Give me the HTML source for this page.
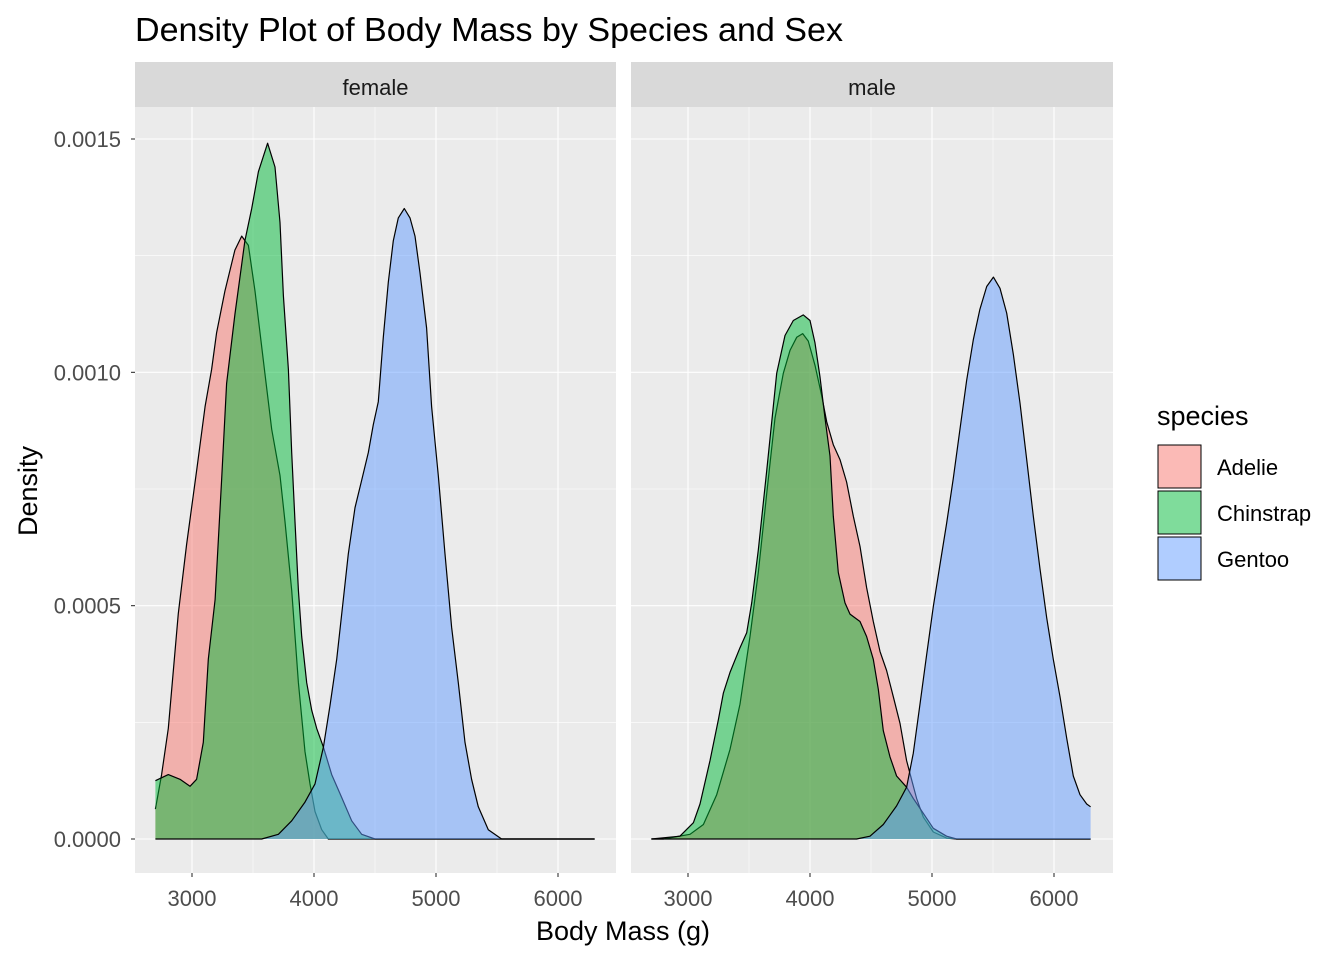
<!DOCTYPE html>
<html><head><meta charset="utf-8">
<style>
body{margin:0;background:#fff;}
svg text{font-family:"Liberation Sans",Arial,sans-serif;}
</style></head>
<body>
<svg id="chart" width="1344" height="960" viewBox="0 0 1344 960" xmlns="http://www.w3.org/2000/svg">
<text x="135" y="41" font-size="33" fill="#000" textLength="708" lengthAdjust="spacingAndGlyphs">Density Plot of Body Mass by Species and Sex</text>
<g id="panels"></g>
<text x="623" y="940" font-size="27" text-anchor="middle" fill="#000">Body Mass (g)</text>
<text transform="translate(37,491) rotate(-90)" font-size="27" text-anchor="middle" fill="#000">Density</text>
<g>
<text x="1157" y="425" font-size="27" fill="#000">species</text>
<g><rect x="1158" y="445" width="43" height="43" fill="#F8766D" fill-opacity="0.5" stroke="#000" stroke-width="1"/><text x="1217" y="475" font-size="22">Adelie</text></g>
<g><rect x="1158" y="491" width="43" height="43" fill="#00BA38" fill-opacity="0.5" stroke="#000" stroke-width="1"/><text x="1217" y="521" font-size="22">Chinstrap</text></g>
<g><rect x="1158" y="537" width="43" height="43" fill="#619CFF" fill-opacity="0.5" stroke="#000" stroke-width="1"/><text x="1217" y="567" font-size="22">Gentoo</text></g>
</g>
</svg>
<script>
const panelNames = ["female","male"];
const speciesNames = ["Adelie","Chinstrap","Gentoo"];
const xTicks = [3000,4000,5000,6000];
const yTicks = [0,0.0005,0.001,0.0015];
const yTickLabels = ["0.0000","0.0005","0.0010","0.0015"];
// density values in units of 1e-4
const femAdelieX = [2700,2751,2806,2888,2956,3038,3107,3161,3202,3270,3352,3407,3462,3516,3598,3653,3721,3762,3817,3872,3926,3967,4008,4063,4117,6300];
const femAdelieY = [0.64,1.38,2.37,4.83,6.31,7.89,9.27,10.06,10.85,11.74,12.62,12.92,12.72,11.74,9.96,8.78,7.79,6.80,5.33,3.35,1.87,1.18,0.59,0.20,0,0];
const femChinX = [2700,2806,2902,2984,3038,3093,3134,3189,3243,3284,3352,3434,3489,3544,3620,3680,3721,3749,3790,3817,3844,3872,3899,3940,3981,4022,4077,4145,4227,4309,4391,4500,6300];
const femChinY = [1.25,1.38,1.28,1.13,1.28,2.07,3.85,5.13,7.69,9.76,11.24,12.82,13.51,14.30,14.91,14.40,13.21,11.64,10.06,8.28,6.80,5.33,4.34,3.35,2.76,2.37,1.97,1.38,0.89,0.39,0.10,0,0];
const femGentooX = [2700,3571,3708,3817,3926,4008,4077,4131,4186,4240,4281,4336,4391,4445,4486,4527,4568,4609,4650,4691,4740,4787,4828,4869,4923,4964,5019,5074,5128,5183,5238,5292,5347,5429,5538,6300];
const femGentooY = [0,0,0.1,0.39,0.79,1.18,1.97,2.86,3.85,5.13,6.11,7.10,7.69,8.28,8.88,9.37,10.75,11.93,12.82,13.31,13.51,13.31,12.92,12.13,10.95,9.27,7.79,6.11,4.54,3.35,2.07,1.28,0.69,0.20,0,0];
const maleAdelieX = [2700,2798,3016,3126,3235,3344,3426,3508,3576,3645,3713,3781,3836,3891,3940,3986,4041,4096,4137,4191,4246,4300,4355,4410,4464,4519,4574,4628,4683,4738,4792,4833,4874,4929,5011,5120,5202,6300];
const maleAdelieY = [0,0,0.10,0.31,0.95,1.92,2.89,4.34,5.71,7.40,9.02,9.98,10.47,10.75,10.83,10.67,10.15,9.50,8.94,8.45,8.13,7.65,6.92,6.27,5.39,4.66,4.02,3.61,3.05,2.48,1.68,1.27,0.87,0.47,0.15,0.02,0,0];
const maleChinX = [2700,2934,3044,3098,3180,3249,3290,3344,3426,3481,3522,3576,3645,3727,3795,3863,3945,4000,4041,4082,4123,4164,4191,4232,4287,4328,4410,4464,4519,4560,4601,4656,4710,4792,4847,4929,5011,5120,5202,6300];
const maleChinY = [0,0.06,0.35,0.75,1.68,2.56,3.13,3.57,4.10,4.42,5.06,6.19,7.89,9.98,10.79,11.11,11.23,11.11,10.63,9.90,9.02,8.21,6.92,5.71,5.06,4.82,4.66,4.34,3.85,3.21,2.32,1.76,1.35,1.11,0.87,0.55,0.23,0.06,0,0];
const maleGentooX = [2700,4382,4492,4601,4710,4792,4847,4902,4956,5011,5065,5120,5175,5229,5284,5339,5393,5448,5503,5557,5612,5666,5721,5776,5830,5885,5940,5994,6049,6104,6158,6213,6268,6300];
const maleGentooY = [0,0,0.06,0.31,0.71,1.11,1.84,2.89,3.94,4.98,5.87,6.76,7.73,8.77,9.82,10.71,11.35,11.84,12.04,11.80,11.27,10.39,9.34,8.13,6.92,5.79,4.74,3.85,3.05,2.16,1.35,0.95,0.75,0.69];

const colors = ["#F8766D","#00BA38","#619CFF"];
const series = [
  [[femAdelieX,femAdelieY],[femChinX,femChinY],[femGentooX,femGentooY]],
  [[maleAdelieX,maleAdelieY],[maleChinX,maleChinY],[maleGentooX,maleGentooY]]
];
const NS = "http://www.w3.org/2000/svg";
const panelLeft = [135,631], panelW = [481,482];
const plotTop = 107, plotBottom = 873;
function xScale(p, v){ return panelLeft[p] + 57 + (v-3000)*0.122; }
function yScale(d){ return 839 - d/0.0015*700; }
function mk(tag, attrs, parent){ const e=document.createElementNS(NS,tag); for(const k in attrs) e.setAttribute(k,attrs[k]); parent.appendChild(e); return e; }
const root = document.getElementById("panels");
panelNames.forEach((name,p)=>{
  const g = mk("g",{},root);
  
  
  const L = panelLeft[p], W = panelW[p];
  const strip = mk("rect",{x:L,y:62,width:W,height:45,fill:"#D9D9D9"},g);
  
  
  const st = mk("text",{x:L+W/2,y:95,"font-size":22,"text-anchor":"middle",fill:"#1A1A1A"},g);
  st.textContent = name;
  
  
  const bg = mk("rect",{x:L,y:plotTop,width:W,height:plotBottom-plotTop,fill:"#EBEBEB"},g);
  
  
  for(let i=0;i<yTicks.length-1;i++){
    const y=yScale((yTicks[i]+yTicks[i+1])/2);
    mk("line",{x1:L,x2:L+W,y1:y,y2:y,stroke:"#fff","stroke-width":0.55},g);
  }
  for(let i=0;i<xTicks.length-1;i++){
    const x=xScale(p,(xTicks[i]+xTicks[i+1])/2);
    mk("line",{x1:x,x2:x,y1:plotTop,y2:plotBottom,stroke:"#fff","stroke-width":0.55},g);
  }
  yTicks.forEach(t=>{const y=yScale(t); mk("line",{x1:L,x2:L+W,y1:y,y2:y,stroke:"#fff","stroke-width":1.1},g);});
  xTicks.forEach(t=>{const x=xScale(p,t); mk("line",{x1:x,x2:x,y1:plotTop,y2:plotBottom,stroke:"#fff","stroke-width":1.1},g);});
  series[p].forEach((s,k)=>{
    const xs=s[0], ys=s[1];
    let d="";
    xs.forEach((v,i)=>{ d += (i?"L":"M")+xScale(p,v).toFixed(1)+","+yScale(ys[i]*1e-4).toFixed(1); });
    const area = mk("path",{d:d+"L"+xScale(p,xs[xs.length-1]).toFixed(1)+","+yScale(0)+"L"+xScale(p,xs[0]).toFixed(1)+","+yScale(0)+"Z",fill:colors[k],"fill-opacity":0.5,stroke:"none"},g);
    
    
    const line = mk("path",{d:d,fill:"none",stroke:"#000","stroke-width":1.2,"stroke-linejoin":"round"},g);
    
    
  });
  xTicks.forEach(t=>{
    const x=xScale(p,t);
    mk("line",{x1:x,x2:x,y1:plotBottom,y2:plotBottom+4,stroke:"#333","stroke-width":1.1},g);
    const tx=mk("text",{x:x,y:906,"font-size":22,"text-anchor":"middle",fill:"#4D4D4D"},g);
    tx.textContent=t;
    
    
  });
});
yTicks.forEach((t,i)=>{
  const y=yScale(t);
  mk("line",{x1:131,x2:135,y1:y,y2:y,stroke:"#333","stroke-width":1.1},root);
  const tx=mk("text",{x:121,y:y+8,"font-size":22,"text-anchor":"end",fill:"#4D4D4D"},root);
  tx.textContent=yTickLabels[i];
  
  
});
</script>
</body></html>
